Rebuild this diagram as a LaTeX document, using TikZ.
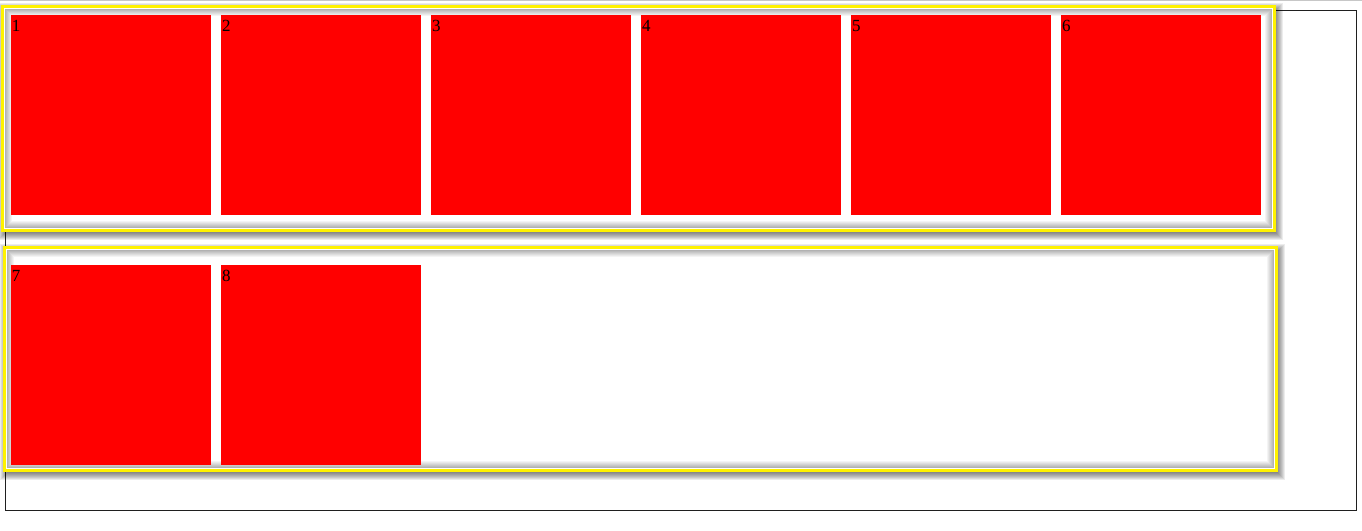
\documentclass[tikz,border=0pt]{standalone}
\usepackage{fontspec}
\setmainfont{Liberation Serif}
\begin{document}
\begin{tikzpicture}[x=1pt,y=-1pt,
  sq/.style={fill=red, draw=none, minimum width=200pt, minimum height=200pt, inner sep=0pt, outer sep=0pt},
  num/.style={inner sep=0pt, outer sep=0pt, anchor=north west, xshift=1pt, yshift=-5pt, font=\fontsize{17}{20}\selectfont, text=black},
  frame/.style={draw=black!88, line width=1pt},
  glowborder/.style={draw=yellow, line width=3pt, fill=white}
]
\useasboundingbox (0,0) rectangle (1362,530);
\fill[white] (0,0) rectangle (1362,530);
% top light line
\draw[black!22, line width=1.2pt] (0,0.6) -- (1362,0.6);
% outer frame
\draw[frame] (5.5,10) rectangle (1356,510);
% glow box macro: outer shadow, border, inset shadow
\newcommand\glowbox[4]{%
  \foreach \k in {0,...,10}{%
    \fill[black, opacity=0.075] ({#1+2-5+\k},{#2+3-5+\k}) rectangle ({#3+2+5-\k},{#4+3+5-\k});
  }
  \draw[glowborder] ({#1+1.5},{#2+1.5}) rectangle ({#3-1.5},{#4-1.5});
  \foreach \d [evaluate=\d as \op using 0.30*(1-\d/7)] in {0,...,6}{%
    \draw[black, opacity=\op, line width=1pt] ({#1+4.5+\d},{#2+4.5+\d}) rectangle ({#3-4.5-\d},{#4-4.5-\d});
  }
}
\glowbox{1}{5}{1276}{232}
\glowbox{3}{246}{1278}{472}
% row 1
\node[sq] (s1) at (111,115) {};
\node[sq] (s2) at (321,115) {};
\node[sq] (s3) at (531,115) {};
\node[sq] (s4) at (741,115) {};
\node[sq] (s5) at (951,115) {};
\node[sq] (s6) at (1161,115) {};
% row 2
\node[sq] (s7) at (111,365) {};
\node[sq] (s8) at (321,365) {};
% numbers
\node[num] (n1) at (s1.north west) {1};
\node[num] (n2) at (s2.north west) {2};
\node[num] (n3) at (s3.north west) {3};
\node[num] (n4) at (s4.north west) {4};
\node[num] (n5) at (s5.north west) {5};
\node[num] (n6) at (s6.north west) {6};
\node[num] (n7) at (s7.north west) {7};
\node[num] (n8) at (s8.north west) {8};
\end{tikzpicture}
\end{document}
